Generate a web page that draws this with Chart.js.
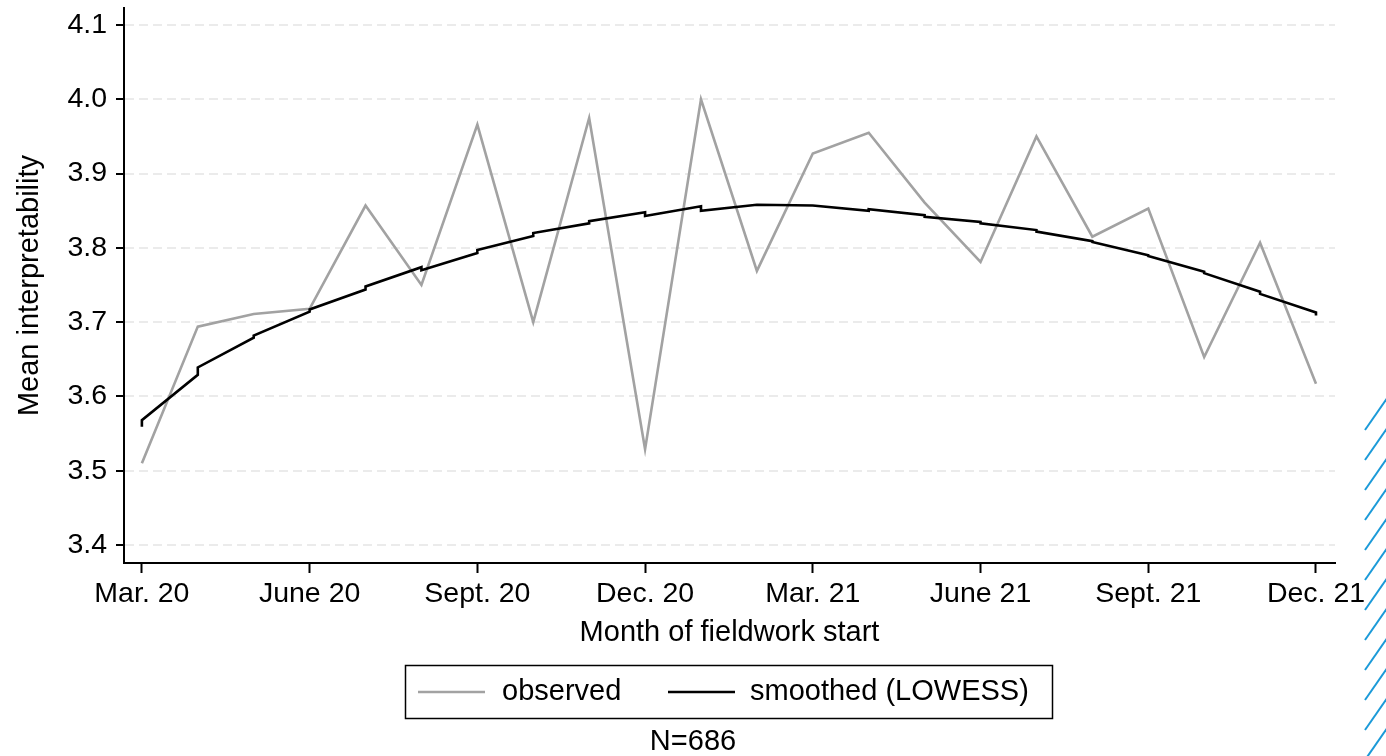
<!DOCTYPE html>
<html><head><meta charset="utf-8">
<script src="https://cdn.jsdelivr.net/npm/chart.js@4.4.1/dist/chart.umd.min.js"></script>
<style>html,body{margin:0;padding:0;background:#fff;overflow:hidden}</style>
</head><body>
<canvas id="c" width="1386" height="756" style="display:block;width:1386px;height:756px"></canvas>
<script>
// ---- data ----
const months = ['Mar. 20','Apr. 20','May 20','June 20','July 20','Aug. 20','Sept. 20','Oct. 20','Nov. 20','Dec. 20','Jan. 21','Feb. 21','Mar. 21','Apr. 21','May 21','June 21','July 21','Aug. 21','Sept. 21','Oct. 21','Nov. 21','Dec. 21'];
const tickMonths = [0,3,6,9,12,15,18,21];
const yTicks = [3.4,3.5,3.6,3.7,3.8,3.9,4.0,4.1];
const observed = [3.510,3.694,3.711,3.718,3.857,3.750,3.966,3.700,3.975,3.529,4.000,3.769,3.927,3.955,3.861,3.781,3.950,3.815,3.853,3.653,3.807,3.617];
const smoothedIn  = [3.559,3.629,3.679,3.714,3.744,3.774,3.793,3.816,3.833,3.848,3.856,3.858,3.857,3.850,3.844,3.835,3.824,3.809,3.790,3.768,3.741,3.713];
const smoothedOut = [3.568,3.639,3.682,3.717,3.748,3.770,3.797,3.820,3.836,3.843,3.850,3.858,3.857,3.852,3.842,3.833,3.822,3.808,3.789,3.766,3.738,3.709];
const seriesNames = ['observed','smoothed (LOWESS)'];
const noteText = 'N=686';
const xTitle = 'Month of fieldwork start';
const yTitle = 'Mean interpretability';

const FONT = '"Liberation Sans", Arial, sans-serif';
const obsColor = '#a2a2a2';

const obsData = observed.map((v,i)=>({x:i,y:v}));
const smoothData = [];
smoothedIn.forEach((v,i)=>{ smoothData.push({x:i,y:v}); smoothData.push({x:i,y:smoothedOut[i]}); });

const legendBox = {
  id:'legendBox',
  afterDraw(chart){
    const ctx = chart.ctx;
    ctx.save();
    ctx.strokeStyle = '#000'; ctx.lineWidth = 1.5;
    ctx.strokeRect(405.5, 665.5, 647, 53);
    ctx.lineWidth = 2.5;
    ctx.strokeStyle = obsColor;
    ctx.beginPath(); ctx.moveTo(418,692); ctx.lineTo(485,692); ctx.stroke();
    ctx.strokeStyle = '#000';
    ctx.beginPath(); ctx.moveTo(668,692); ctx.lineTo(735,692); ctx.stroke();
    ctx.fillStyle = '#000';
    ctx.font = '29px ' + FONT;
    ctx.textBaseline = 'middle'; ctx.textAlign = 'left';
    ctx.fillText(seriesNames[0], 502, 692);
    ctx.fillText(seriesNames[1], 750, 692);
    ctx.textAlign = 'center';
    ctx.fillText(noteText, 693, 742);
    // blue hatch decoration on the right edge
    ctx.strokeStyle = '#1b9ad8'; ctx.lineWidth = 2;
    for (let y0 = 398; y0 < 760; y0 += 30) {
      ctx.beginPath(); ctx.moveTo(1365, y0 + 32); ctx.lineTo(1390, y0 - 4); ctx.stroke();
    }
    ctx.restore();
  }
};

new Chart(document.getElementById('c'), {
  type:'line',
  data:{ datasets:[
    { label:seriesNames[0], data:obsData, borderColor:obsColor, borderWidth:2.6, pointRadius:0, tension:0, order:2 },
    { label:seriesNames[1], data:smoothData, borderColor:'#000', borderWidth:2.6, pointRadius:0, tension:0, order:1 }
  ]},
  options:{
    responsive:false, animation:false, devicePixelRatio:1,
    layout:{ padding:{ left:0, right:51, top:8, bottom:0 } },
    plugins:{ legend:{display:false}, tooltip:{enabled:false}, title:{display:false} },
    scales:{
      x:{
        type:'linear', min:-0.32, max:21.34,
        afterBuildTicks(s){ s.ticks = tickMonths.map(v=>({value:v})); },
        afterFit(s){ s.height = 193; s.paddingLeft = 0; s.paddingRight = 0; },
        ticks:{ callback:(v)=>months[v], color:'#000', font:{family:FONT,size:28.5}, padding:4, maxRotation:0, autoSkip:false },
        grid:{ drawOnChartArea:false, drawTicks:true, tickLength:10, tickColor:'#000', tickWidth:2 },
        border:{ display:true, color:'#000', width:2 },
        title:{ display:true, text:xTitle, color:'#000', font:{family:FONT,size:29}, padding:{top:0,bottom:106} }
      },
      y:{
        type:'linear', min:3.3757, max:4.123,
        afterBuildTicks(s){ s.ticks = yTicks.map(v=>({value:v})); },
        afterFit(s){ s.width = 124; s.paddingTop = 0; s.paddingBottom = 0; },
        ticks:{ callback:(v)=>v.toFixed(1), color:'#000', font:{family:FONT,size:28.5}, padding:9 },
        grid:{ color:'#ebebeb', lineWidth:2, drawTicks:true, tickLength:8, tickColor:'#000', tickWidth:2, tickBorderDash:[] },
        border:{ display:true, color:'#000', width:2, dash:[9,5] },
        title:{ display:true, text:yTitle, color:'#000', font:{family:FONT,size:29}, padding:{top:13,bottom:0} }
      }
    }
  },
  plugins:[legendBox]
});
</script>
</body></html>
